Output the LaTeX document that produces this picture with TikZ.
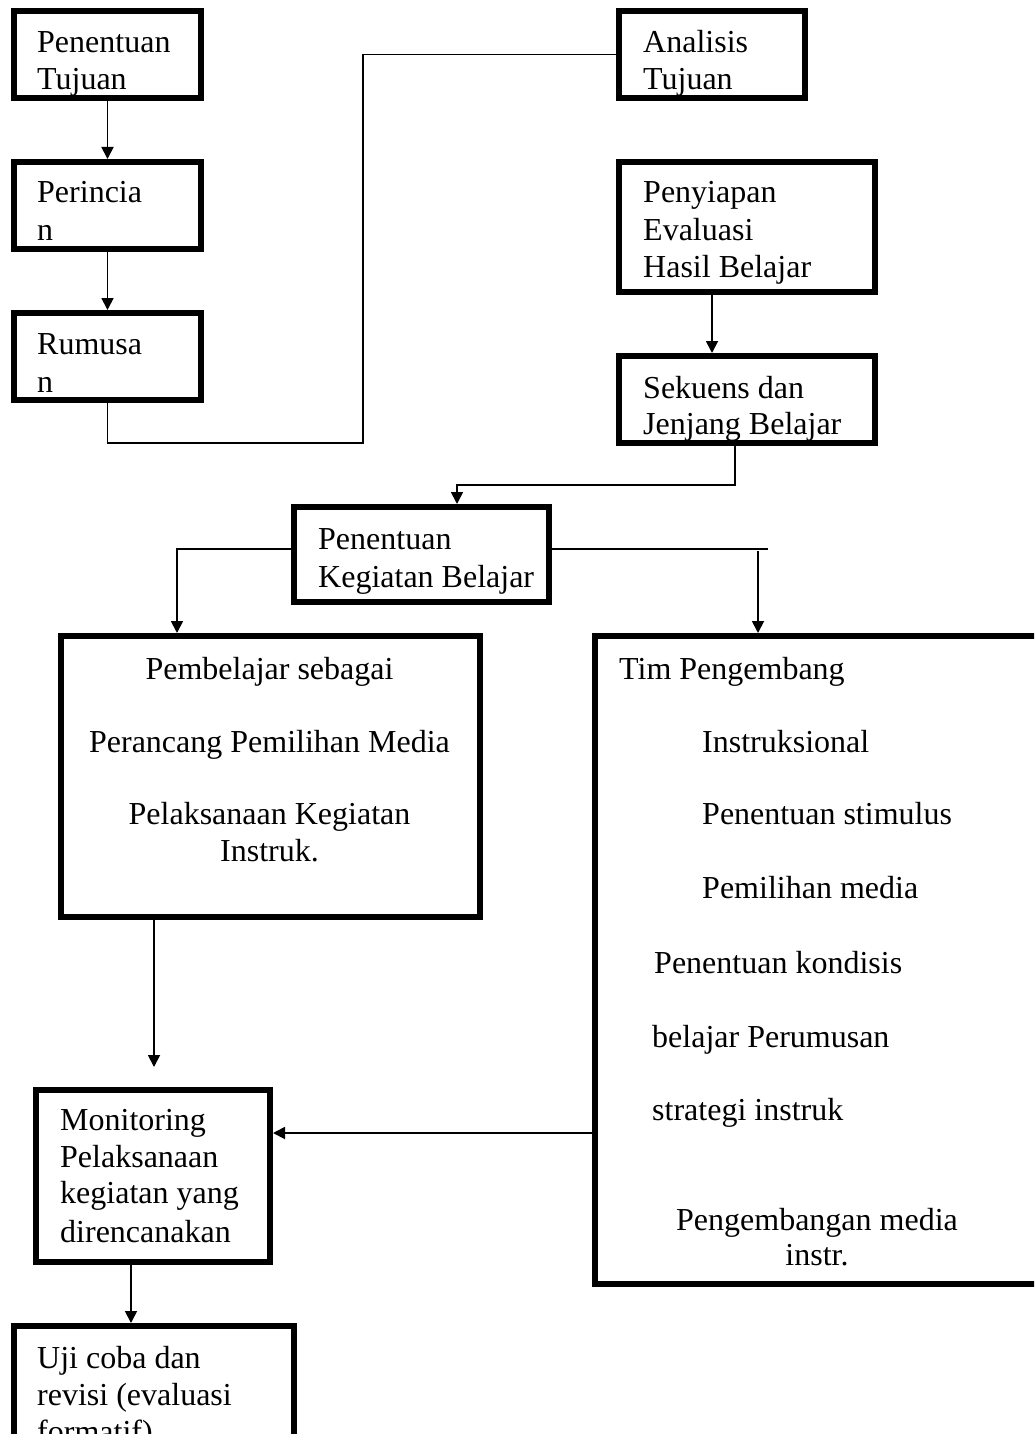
\documentclass[tikz,border=0pt]{standalone}
\usepackage{fontspec}
\setmainfont{Liberation Serif}
\usetikzlibrary{arrows.meta}
\newcommand\tbfont{\fontsize{32}{37}\selectfont}
\tikzset{
  box/.style={draw, line width=6pt, inner sep=0pt, fill=white},
  conn/.style={line width=1.8pt},
  thinconn/.style={line width=1.3pt},
  arr/.style={conn, -{Triangle[length=12pt,width=12pt]}},
  txt/.style={inner sep=0pt, anchor=base west, font=\tbfont},
  ctxt/.style={inner sep=0pt, anchor=base, font=\tbfont}
}
\begin{document}
\begin{tikzpicture}[x=1pt,y=-1pt]
\useasboundingbox (0,0) rectangle (1034,1434);
\clip (0,0) rectangle (1034,1434);
\fill[white] (0,0) rectangle (1034,1434);

% boxes
\node[box, minimum width=187pt, minimum height=87pt] (b1) at (107.5,54.5) {};
\node[box, minimum width=187pt, minimum height=87pt] (b2) at (107.5,205.5) {};
\node[box, minimum width=187pt, minimum height=87pt] (b3) at (107.5,356.5) {};
\node[box, minimum width=186pt, minimum height=87pt] (b4) at (712,54.5) {};
\node[box, minimum width=256pt, minimum height=130pt] (b5) at (747,227) {};
\node[box, minimum width=256pt, minimum height=87pt] (b6) at (747,399.5) {};
\node[box, minimum width=255pt, minimum height=95pt] (b7) at (421.5,554.5) {};
\node[box, minimum width=419pt, minimum height=281pt] (b8) at (270.5,776.5) {};
\node[box, minimum width=447pt, minimum height=648pt] (b9) at (818.5,960) {};
\node[box, minimum width=234pt, minimum height=172pt] (b10) at (153,1176) {};
\node[box, minimum width=280pt, minimum height=154pt] (b11) at (154,1403) {};

% helper coordinates
\coordinate (k1) at (363,443);
\coordinate (k2) at (457,485);
\coordinate (k3) at (177,549);
\coordinate (k4) at (768,549);
\coordinate (k5) at (758,551);
\coordinate (k6) at (154,1067);
\coordinate (k7) at (0,1133);
\coordinate (k8) at (131,0);
\coordinate (k9) at (712,0);
\coordinate (k10) at (735,0);

% connectors
\draw[arr] (b1) -- (b2);
\draw[arr] (b2) -- (b3);
\draw[conn] (b3.south) |- (k1) |- (b4.west);
\draw[arr] (b5.south -| k9) -- (b6.north -| k9);
\draw[arr] (b6.south -| k10) |- (k2) -- (k2 |- b7.north);
\draw[arr] (b7.west |- k3) -| (k3 |- b8.north);
\draw[thinconn] (b7.east |- k4) -- (k4);
\draw[arr] (k5) -- (k5 |- b9.north);
\draw[arr] (b8.south -| k6) -- (k6);
\draw[arr] (b9.west |- k7) -- (b10.east |- k7);
\draw[arr] (b10.south -| k8) -- (b11.north -| k8);

% texts
\node[txt] (t1a) at (37,53) {Penentuan};
\node[txt] (t1b) at (37,90) {Tujuan};
\node[txt] (t2a) at (37,203) {Perincia};
\node[txt] (t2b) at (37,240) {n};
\node[txt] (t3a) at (37,354) {Rumusa};
\node[txt] (t3b) at (37,392) {n};
\node[txt] (t4a) at (643,53) {Analisis};
\node[txt] (t4b) at (643,90) {Tujuan};
\node[txt] (t5a) at (643,203) {Penyiapan};
\node[txt] (t5b) at (643,240) {Evaluasi};
\node[txt] (t5c) at (643,277) {Hasil Belajar};
\node[txt] (t6a) at (643,398) {Sekuens dan};
\node[txt] (t6b) at (643,434) {Jenjang Belajar};
\node[txt] (t7a) at (318,549) {Penentuan};
\node[txt] (t7b) at (318,587) {Kegiatan Belajar};
\node[ctxt] (t8a) at (269.5,679) {Pembelajar sebagai};
\node[ctxt] (t8b) at (269.5,752) {Perancang Pemilihan Media};
\node[ctxt] (t8c) at (269.5,824) {Pelaksanaan Kegiatan};
\node[ctxt] (t8d) at (269.5,861) {Instruk.};
\node[txt] (t9a) at (619,679) {Tim Pengembang};
\node[txt] (t9b) at (702,752) {Instruksional};
\node[txt] (t9c) at (702,824) {Penentuan stimulus};
\node[txt] (t9d) at (702,898) {Pemilihan media};
\node[txt] (t9e) at (654,973) {Penentuan kondisis};
\node[txt] (t9f) at (652,1047) {belajar Perumusan};
\node[txt] (t9g) at (652,1120) {strategi instruk};
\node[ctxt] (t9h) at (817,1230) {Pengembangan media};
\node[ctxt] (t9i) at (817,1265) {instr.};
\node[txt] (t10a) at (60,1130) {Monitoring};
\node[txt] (t10b) at (60,1167) {Pelaksanaan};
\node[txt] (t10c) at (60,1203) {kegiatan yang};
\node[txt] (t10d) at (60,1242) {direncanakan};
\node[txt] (t11a) at (37,1368) {Uji coba dan};
\node[txt] (t11b) at (37,1405) {revisi (evaluasi};
\node[txt] (t11c) at (37,1442) {formatif)};
\end{tikzpicture}
\end{document}
